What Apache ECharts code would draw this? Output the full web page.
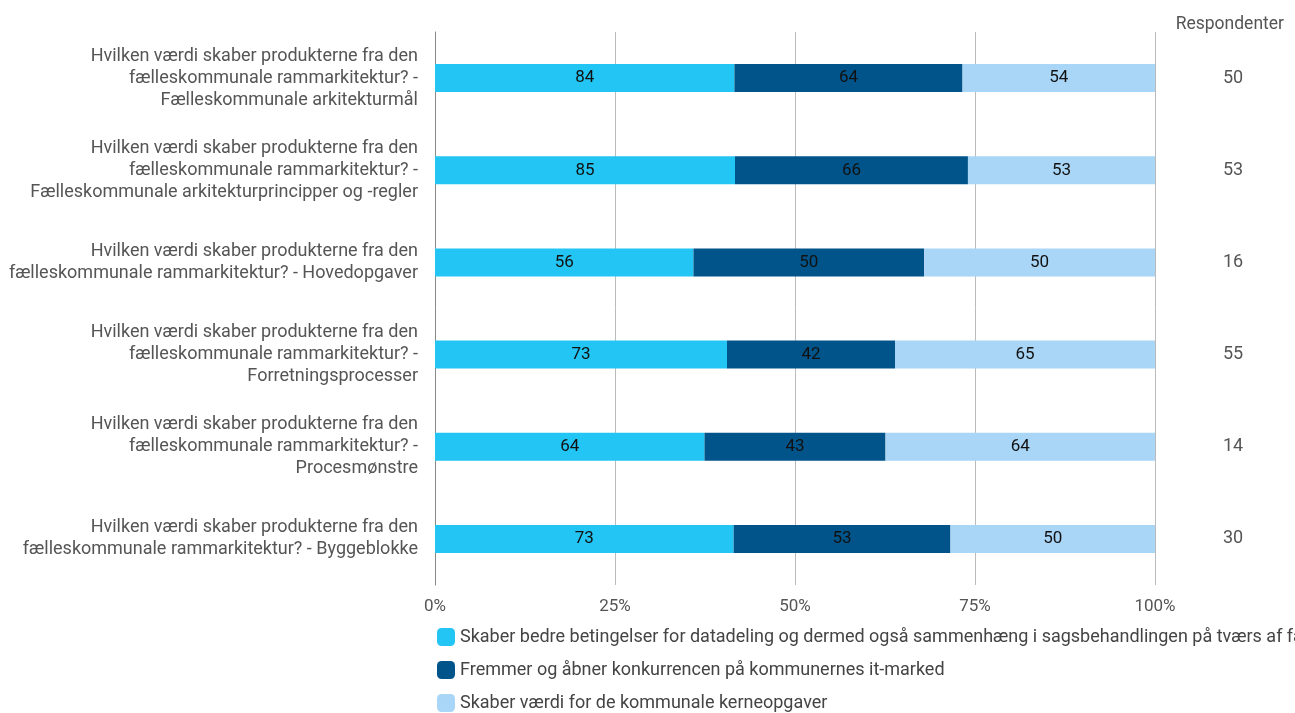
<!DOCTYPE html>
<html>
<head>
<meta charset="utf-8">
<script src="https://cdn.jsdelivr.net/npm/echarts@6/dist/echarts.min.js"></script>
<style>
  html, body { margin: 0; padding: 0; background: #fff; }
  #chart { width: 1295px; height: 713px; }
</style>
</head>
<body>
<div id="chart"></div>
<script>
// data
const categories = [
  'Hvilken værdi skaber produkterne fra den\nfælleskommunale rammarkitektur? -\nFælleskommunale arkitekturmål',
  'Hvilken værdi skaber produkterne fra den\nfælleskommunale rammarkitektur? -\nFælleskommunale arkitekturprincipper og -regler',
  'Hvilken værdi skaber produkterne fra den\nfælleskommunale rammarkitektur? - Hovedopgaver',
  'Hvilken værdi skaber produkterne fra den\nfælleskommunale rammarkitektur? -\nForretningsprocesser',
  'Hvilken værdi skaber produkterne fra den\nfælleskommunale rammarkitektur? -\nProcesmønstre',
  'Hvilken værdi skaber produkterne fra den\nfælleskommunale rammarkitektur? - Byggeblokke'
];
const seriesNames = [
  'Skaber bedre betingelser for datadeling og dermed også sammenhæng i sagsbehandlingen på tværs af fagområder',
  'Fremmer og åbner konkurrencen på kommunernes it-marked',
  'Skaber værdi for de kommunale kerneopgaver'
];
const datadeling = [84, 85, 56, 73, 64, 73];
const konkurrence = [64, 66, 50, 42, 43, 53];
const kerneopgaver = [54, 53, 50, 65, 64, 50];
const respondenter = [50, 53, 16, 55, 14, 30];
const colors = ['#22c5f3', '#00548a', '#a9d5f6'];

const raw = [datadeling, konkurrence, kerneopgaver];
const totals = categories.map((_, i) => raw.reduce((s, arr) => s + arr[i], 0));

const chart = echarts.init(document.getElementById('chart'));

const series = raw.map((arr, k) => ({
  name: seriesNames[k],
  type: 'bar',
  stack: 'total',
  barWidth: 28,
  itemStyle: { color: colors[k] },
  label: {
    show: true,
    position: 'inside',
    color: '#111',
    fontSize: 17,
    fontFamily: 'Roboto',
    formatter: p => arr[p.dataIndex]
  },
  data: arr.map((v, i) => v / totals[i] * 100)
}));

chart.setOption({
  animation: false,
  textStyle: { fontFamily: 'Roboto' },
  title: {
    text: 'Respondenter',
    right: 6,
    top: 11,
    textStyle: { fontSize: 17.5, fontWeight: 'normal', color: '#555', fontFamily: 'Roboto' }
  },
  grid: { left: 435, right: 140, top: 32, bottom: 128 },
  legend: {
    orient: 'vertical',
    left: 432,
    top: 623,
    height: 200,
    itemWidth: 18,
    itemHeight: 18,
    itemGap: 15,
    icon: 'roundRect',
    textStyle: { fontSize: 18, color: '#444', fontFamily: 'Roboto' },
    data: seriesNames
  },
  xAxis: {
    type: 'value',
    min: 0,
    max: 100,
    interval: 25,
    axisLine: { show: false },
    axisTick: { show: false },
    axisLabel: { formatter: '{value}%', color: '#555', fontSize: 17, margin: 13 },
    splitLine: { lineStyle: { color: '#bbb', width: 1 } }
  },
  yAxis: [{
    type: 'category',
    inverse: true,
    data: categories,
    axisLine: { show: true, lineStyle: { color: '#888', width: 1 } },
    axisTick: { show: false },
    axisLabel: { color: '#555', fontSize: 18, lineHeight: 22, margin: 17, align: 'right' }
  }, {
    type: 'category',
    inverse: true,
    position: 'right',
    data: respondenter,
    axisLine: { show: false },
    axisTick: { show: false },
    axisLabel: { color: '#555', fontSize: 18, align: 'center', margin: 78 }
  }],
  series: series
});
</script>
</body>
</html>
